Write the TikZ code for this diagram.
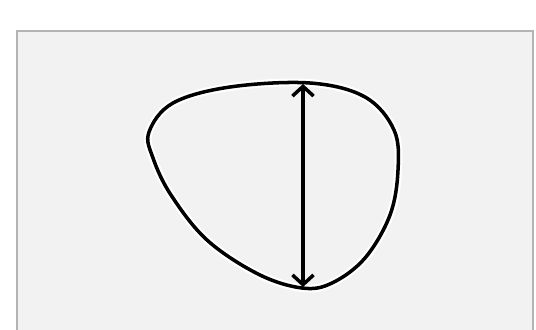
\documentclass[tikz,border=0pt]{standalone}
\definecolor{PanelGray}{HTML}{F2F2F2}
\definecolor{FrameGray}{HTML}{B4B4B4}
\usepackage{tikz}
\usetikzlibrary{arrows.meta,positioning,calc}
\tikzset{
    % Panel behind the outline
    panel/.style={
        draw=FrameGray,
        fill=PanelGray,
        line width=1.5pt
    },
    outline/.style={
        draw=black,
        line width=2pt,
        line join=round
    },
    halo/.style={
        draw=white,
        line width=4.5pt
    },
    measure/.style={
        {Straight Barb[length=5.5pt,width=12pt,line width=2pt]}-{Straight Barb[length=5.5pt,width=12pt,line width=2pt]},
        line width=2pt,
        color=black
    }
}
\begin{document}
\begin{tikzpicture}[x=0.02cm,y=-0.02cm]
    \useasboundingbox (0,0) rectangle (536,329);
    \clip (0,0) rectangle (536,329);

    \path[panel] (17,31) rectangle (533,345);

    % Outline
    \path[halo] plot[smooth cycle, tension=0.6] coordinates {
        (310,83) (365,97) (394,130) (398,170) (390,215) (365,258)
        (332,283) (302,288) (258,274) (207,240) (171,195) (153,158)
        (149,132) (173,103) (230,87)};
    \path[outline] plot[smooth cycle, tension=0.6] coordinates {
        (310,83) (365,97) (394,130) (398,170) (390,215) (365,258)
        (332,283) (302,288) (258,274) (207,240) (171,195) (153,158)
        (149,132) (173,103) (230,87)};

    \coordinate (top) at (303,84);
    \coordinate (bot) at (303,287);

    % Arrows
    \draw[measure] (top) -- (bot);
\end{tikzpicture}
\end{document}
